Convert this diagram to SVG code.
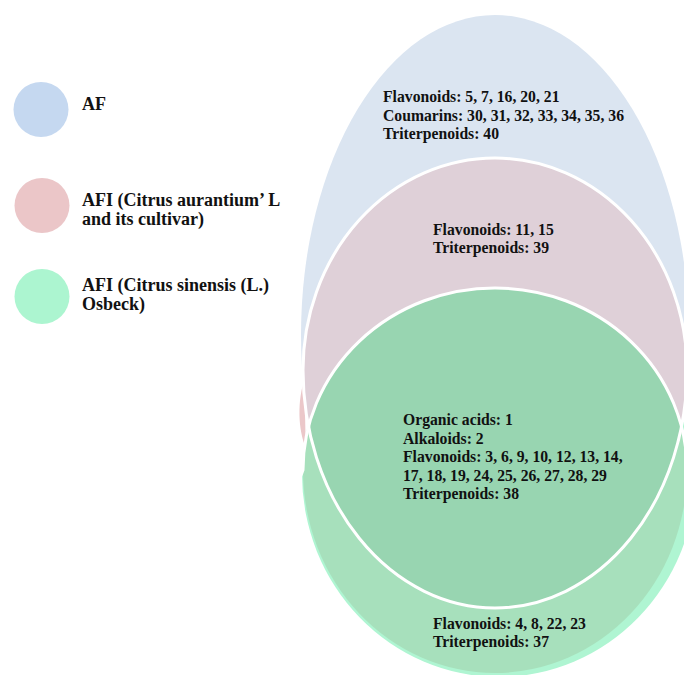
<svg xmlns="http://www.w3.org/2000/svg" width="684" height="675" viewBox="0 0 684 675">
  <style>
    .t { font-family: "Liberation Serif", "Times New Roman", serif; font-weight: bold; fill: #111111; }
    .leg { font-size: 18px; }
    .lab { font-size: 15.7px; }
    .edge { fill: none; stroke: #ffffff; stroke-width: 3; }
  </style>
  <defs>
    <path id="pShape" d="M303,370 A192,212 0 0 1 687,370 A192,238 0 0 1 303,370 Z"/>
    <path id="gShape" d="M303,470 A192,182 0 0 1 687,470 A192,203 0 0 1 303,470 Z"/>
    <clipPath id="clipP"><use href="#pShape"/></clipPath>
  </defs>
  <rect width="684" height="675" fill="#ffffff"/>

  <g id="legend">
    <g id="legend-af">
      <circle cx="41" cy="109.5" r="27.5" fill="#c5d8f0"/>
      <text class="t leg" x="82" y="110">AF</text>
    </g>
    <g id="legend-afi-aurantium">
      <circle cx="42" cy="205.5" r="27.5" fill="#ebc6c8"/>
      <text class="t leg" x="82" y="206">AFI (Citrus aurantium’ L</text>
      <text class="t leg" x="82" y="224.5">and its cultivar)</text>
    </g>
    <g id="legend-afi-sinensis">
      <circle cx="42" cy="296.5" r="27.5" fill="#acf5d0"/>
      <text class="t leg" x="82" y="291">AFI (Citrus sinensis (L.)</text>
      <text class="t leg" x="82" y="309.5">Osbeck)</text>
    </g>
  </g>

  <g id="set-af">
    <ellipse cx="495" cy="335" rx="194" ry="320" fill="#dbe5f1"/>
  </g>
  <g id="set-afi-sinensis-outer">
    <ellipse cx="499" cy="474" rx="197" ry="203" fill="#aff5d2"/>
  </g>
  <g id="set-afi-aurantium">
    <path d="M305,378 C297,400 298,430 306,448 C305,425 305,400 305,378 Z" fill="#ebc7c9"/>
    <use href="#pShape" fill="#dfd0d8"/>
  </g>
  <g id="set-afi-sinensis">
    <use href="#gShape" fill="#a7e0bc"/>
  </g>
  <g id="set-intersection">
    <use href="#gShape" fill="#98d5b1" clip-path="url(#clipP)"/>
  </g>
  <g id="outlines">
    <use href="#pShape" class="edge"/>
    <path class="edge" d="M300,478 L303,470 A192,182 0 0 1 687,470"/>
  </g>

  <g id="labels">
    <g id="label-af">
      <text class="t lab" x="383" y="102">Flavonoids: 5, 7, 16, 20, 21</text>
      <text class="t lab" x="383" y="120.5">Coumarins: 30, 31, 32, 33, 34, 35, 36</text>
      <text class="t lab" x="383" y="139">Triterpenoids: 40</text>
    </g>
    <g id="label-aurantium">
      <text class="t lab" x="433" y="235">Flavonoids: 11, 15</text>
      <text class="t lab" x="433" y="253">Triterpenoids: 39</text>
    </g>
    <g id="label-common">
      <text class="t lab" x="403" y="425">Organic acids: 1</text>
      <text class="t lab" x="403" y="443.5">Alkaloids: 2</text>
      <text class="t lab" x="403" y="462">Flavonoids: 3, 6, 9, 10, 12, 13, 14,</text>
      <text class="t lab" x="403" y="480.5">17, 18, 19, 24, 25, 26, 27, 28, 29</text>
      <text class="t lab" x="403" y="499">Triterpenoids: 38</text>
    </g>
    <g id="label-sinensis">
      <text class="t lab" x="433" y="629">Flavonoids: 4, 8, 22, 23</text>
      <text class="t lab" x="433" y="647">Triterpenoids: 37</text>
    </g>
  </g>
</svg>
